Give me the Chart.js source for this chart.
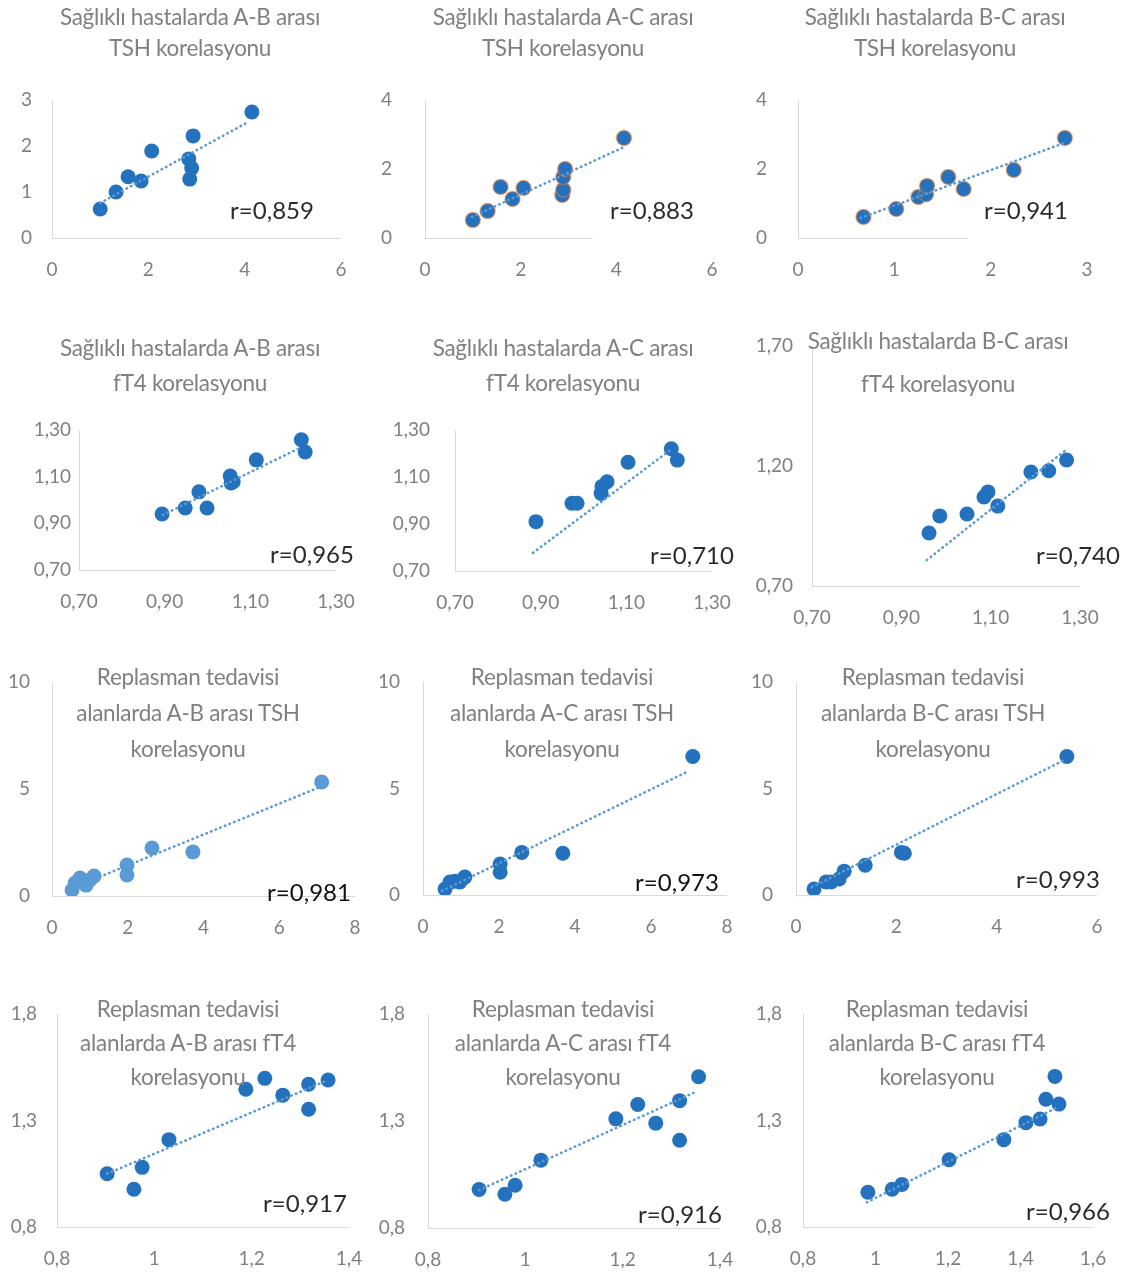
<!DOCTYPE html>
<html>
<head>
<meta charset="utf-8">
<script src="https://cdn.jsdelivr.net/npm/chart.js"></script>
<style>
  body { margin: 0; background: #fff; width: 1127px; height: 1276px; position: relative; overflow: hidden; font-family: Lato, "Open Sans", sans-serif; }
  canvas { position: absolute; }
  .title { position: absolute; color: #808080; font-size: 22.5px; text-align: center; white-space: nowrap; transform: translateX(-50%); letter-spacing: -0.3px; }
  .rlab { position: absolute; color: #2b2b2b; font-size: 24px; white-space: nowrap; transform: translate(-50%, -50%); }
</style>
</head>
<body>
<script>
// ---- data ----
// healthy, TSH
const hTshAB_x = [1.00, 1.33, 1.58, 1.85, 2.07, 2.86, 2.84, 2.90, 2.93, 4.15];
const hTshAB_y = [0.63, 1.00, 1.33, 1.24, 1.89, 1.28, 1.72, 1.52, 2.22, 2.74];
const hTshAB_trendX = [1.00, 4.07];
const hTshAB_trendY = [0.76, 2.52];

const hTshAC_x = [1.00, 1.31, 1.58, 1.83, 2.06, 2.87, 2.89, 2.89, 2.93, 4.16];
const hTshAC_y = [0.52, 0.78, 1.48, 1.13, 1.45, 1.25, 1.40, 1.77, 2.00, 2.90];
const hTshAC_trendX = [0.98, 4.12];
const hTshAC_trendY = [0.61, 2.61];

const hTshBC_x = [0.68, 1.02, 1.25, 1.33, 1.34, 1.56, 1.72, 2.24, 2.77];
const hTshBC_y = [0.61, 0.84, 1.19, 1.27, 1.51, 1.77, 1.42, 1.97, 2.90];
const hTshBC_trendX = [0.65, 2.76];
const hTshBC_trendY = [0.58, 2.75];

// healthy, fT4
const hFt4AB_x = [0.894, 0.948, 0.980, 0.999, 1.053, 1.055, 1.060, 1.114, 1.219, 1.228];
const hFt4AB_y = [0.940, 0.966, 1.035, 0.966, 1.103, 1.073, 1.078, 1.172, 1.258, 1.206];
const hFt4AB_trendX = [0.896, 1.221];
const hFt4AB_trendY = [0.936, 1.228];

const hFt4AC_x = [0.889, 0.973, 0.985, 1.041, 1.043, 1.055, 1.104, 1.205, 1.219];
const hFt4AC_y = [0.910, 0.988, 0.988, 1.030, 1.060, 1.080, 1.163, 1.220, 1.172];
const hFt4AC_trendX = [0.882, 1.200];
const hFt4AC_trendY = [0.777, 1.211];

const hFt4BC_x = [0.962, 0.986, 1.047, 1.085, 1.094, 1.116, 1.190, 1.230, 1.270];
const hFt4BC_y = [0.921, 0.992, 1.000, 1.071, 1.092, 1.033, 1.175, 1.180, 1.225];
const hFt4BC_trendX = [0.957, 1.266];
const hFt4BC_trendY = [0.808, 1.263];

// replacement therapy, TSH
const rTshAB_x = [0.53, 0.61, 0.74, 0.90, 1.00, 1.11, 1.98, 1.98, 2.64, 3.72, 7.12];
const rTshAB_y = [0.28, 0.61, 0.84, 0.51, 0.75, 0.93, 1.45, 0.98, 2.24, 2.06, 5.33];
const rTshAB_trendX = [0.53, 7.02];
const rTshAB_trendY = [0.37, 5.05];

const rTshAC_x = [0.58, 0.71, 0.84, 0.97, 1.10, 2.03, 2.03, 2.60, 3.68, 7.10];
const rTshAC_y = [0.28, 0.61, 0.65, 0.61, 0.84, 1.45, 1.07, 2.00, 1.96, 6.50];
const rTshAC_trendX = [0.50, 6.97];
const rTshAC_trendY = [0.19, 5.80];

const rTshBC_x = [0.36, 0.60, 0.70, 0.86, 0.96, 1.38, 2.10, 2.16, 5.40];
const rTshBC_y = [0.28, 0.61, 0.61, 0.75, 1.12, 1.40, 2.00, 1.96, 6.50];
const rTshBC_trendX = [0.32, 5.36];
const rTshBC_trendY = [0.37, 6.35];

// replacement therapy, fT4
const rFt4AB_x = [0.903, 0.958, 0.975, 1.030, 1.188, 1.227, 1.264, 1.317, 1.317, 1.357];
const rFt4AB_y = [1.050, 0.977, 1.080, 1.210, 1.447, 1.498, 1.419, 1.470, 1.353, 1.490];
const rFt4AB_trendX = [0.903, 1.355];
const rFt4AB_trendY = [1.050, 1.488];

const rFt4AC_x = [0.905, 0.958, 0.979, 1.032, 1.186, 1.231, 1.268, 1.317, 1.317, 1.356];
const rFt4AC_y = [0.980, 0.958, 1.000, 1.117, 1.310, 1.377, 1.290, 1.395, 1.210, 1.507];
const rFt4AC_trendX = [0.905, 1.354];
const rFt4AC_trendY = [0.977, 1.440];

const rFt4BC_x = [0.979, 1.046, 1.073, 1.203, 1.354, 1.415, 1.454, 1.470, 1.495, 1.506];
const rFt4BC_y = [0.963, 0.977, 1.000, 1.116, 1.210, 1.290, 1.307, 1.400, 1.507, 1.377];
const rFt4BC_trendX = [0.976, 1.500];
const rFt4BC_trendY = [0.916, 1.360];

// tick values
const ticksX6 = [0, 2, 4, 6];
const ticksX3 = [0, 1, 2, 3];
const ticksY3 = [0, 1, 2, 3];
const ticksY4 = [0, 2, 4];
const ticksFt4 = [0.70, 0.90, 1.10, 1.30];
const ticksFt4Y = [0.70, 1.20, 1.70];
const ticksX8 = [0, 2, 4, 6, 8];
const ticksY10 = [0, 5, 10];
const ticksRFt4X = [0.8, 1, 1.2, 1.4];
const ticksRFt4X16 = [0.8, 1, 1.2, 1.4, 1.6];
const ticksRFt4Y = [0.8, 1.3, 1.8];

const titles = [
  ["Sağlıklı hastalarda A-B arası", "TSH korelasyonu"],
  ["Sağlıklı hastalarda A-C arası", "TSH korelasyonu"],
  ["Sağlıklı hastalarda B-C arası", "TSH korelasyonu"],
  ["Sağlıklı hastalarda A-B arası", "fT4 korelasyonu"],
  ["Sağlıklı hastalarda A-C arası", "fT4 korelasyonu"],
  ["Sağlıklı hastalarda B-C arası", "fT4 korelasyonu"],
  ["Replasman tedavisi", "alanlarda A-B arası TSH", "korelasyonu"],
  ["Replasman tedavisi", "alanlarda A-C arası TSH", "korelasyonu"],
  ["Replasman tedavisi", "alanlarda B-C arası TSH", "korelasyonu"],
  ["Replasman tedavisi", "alanlarda A-B arası fT4", "korelasyonu"],
  ["Replasman tedavisi", "alanlarda A-C arası fT4", "korelasyonu"],
  ["Replasman tedavisi", "alanlarda B-C arası fT4", "korelasyonu"]
];
const rValues = ["r=0,859", "r=0,883", "r=0,941", "r=0,965", "r=0,710", "r=0,740",
                 "r=0,981", "r=0,973", "r=0,993", "r=0,917", "r=0,916", "r=0,966"];

const series = [
  [hTshAB_x, hTshAB_y, hTshAB_trendX, hTshAB_trendY, ticksX6, ticksY3],
  [hTshAC_x, hTshAC_y, hTshAC_trendX, hTshAC_trendY, ticksX6, ticksY4],
  [hTshBC_x, hTshBC_y, hTshBC_trendX, hTshBC_trendY, ticksX3, ticksY4],
  [hFt4AB_x, hFt4AB_y, hFt4AB_trendX, hFt4AB_trendY, ticksFt4, ticksFt4],
  [hFt4AC_x, hFt4AC_y, hFt4AC_trendX, hFt4AC_trendY, ticksFt4, ticksFt4],
  [hFt4BC_x, hFt4BC_y, hFt4BC_trendX, hFt4BC_trendY, ticksFt4, ticksFt4Y],
  [rTshAB_x, rTshAB_y, rTshAB_trendX, rTshAB_trendY, ticksX8, ticksY10],
  [rTshAC_x, rTshAC_y, rTshAC_trendX, rTshAC_trendY, ticksX8, ticksY10],
  [rTshBC_x, rTshBC_y, rTshBC_trendX, rTshBC_trendY, ticksX6, ticksY10],
  [rFt4AB_x, rFt4AB_y, rFt4AB_trendX, rFt4AB_trendY, ticksRFt4X, ticksRFt4Y],
  [rFt4AC_x, rFt4AC_y, rFt4AC_trendX, rFt4AC_trendY, ticksRFt4X, ticksRFt4Y],
  [rFt4BC_x, rFt4BC_y, rFt4BC_trendX, rFt4BC_trendY, ticksRFt4X16, ticksRFt4Y]
];

// ---- layout (page pixels): plot box [left, right, top, bottom], y tick pad, title pos, r label pos ----
const layout = [
  { box: [52, 341, 100, 238],  yPad: 20, title: [190, 1, 31],   rl: [272, 209] },
  { box: [425, 712, 100, 238], yPad: 33, title: [563, 1, 31],   rl: [652, 209], xEnd: 3.5, ring: true },
  { box: [798, 1087, 100, 238], yPad: 31, title: [935, 1, 31],  rl: [1026, 209], xEnd: 1.76, ring: true },
  { box: [79, 336, 430, 570],  yPad: 8,  title: [190, 330, 35], rl: [312, 553], dec: 2 },
  { box: [455, 712, 430, 571], yPad: 25, title: [563, 330, 35], rl: [692, 554], dec: 2 },
  { box: [812, 1080, 346, 586], yPad: 19, title: [938, 319, 43], rl: [1078, 554], dec: 2 },
  { box: [52, 355, 682, 896],  yPad: 22, title: [188, 659, 36], rl: [309, 891], light: true, dark: true },
  { box: [423, 727, 682, 895], yPad: 23, title: [562, 659, 36], rl: [677, 881], dark: true },
  { box: [796, 1097, 682, 895], yPad: 23, title: [933, 659, 36], rl: [1058, 878] },
  { box: [57, 349, 1014, 1227], yPad: 20, title: [188, 992, 34], rl: [305, 1202] },
  { box: [428, 720, 1014, 1228], yPad: 23, title: [563, 992, 34], rl: [680, 1213] },
  { box: [803, 1093, 1014, 1227], yPad: 21, title: [937, 992, 34], rl: [1068, 1210] }
];

// canvas margins round the plot box (tick padding also feeds Chart.js' layout padding)
const ML = 80, MR = 60, MT = 60, MB = 55;

const xLinePlugin = {
  id: "xLine",
  beforeDatasetsDraw(chart, args, opts) {
    const xs = chart.scales.x, ys = chart.scales.y;
    const end = opts.end != null ? xs.getPixelForValue(opts.end) : chart.chartArea.right;
    const ctx = chart.ctx;
    ctx.save();
    ctx.strokeStyle = "#d9d9d9";
    ctx.lineWidth = 1;
    ctx.beginPath();
    ctx.moveTo(chart.chartArea.left, Math.round(ys.bottom) + 0.5);
    ctx.lineTo(end, Math.round(ys.bottom) + 0.5);
    ctx.stroke();
    ctx.restore();
  }
};

function fmt(v, dec) {
  if (dec) return v.toFixed(dec).replace(".", ",");
  return String(Number(v.toFixed(3))).replace(".", ",");
}

series.forEach(function (s, i) {
  const L = layout[i];
  const [xs, ys, tx, ty, xt, yt] = s;
  const [l, r, t, b] = L.box;

  const cv = document.createElement("canvas");
  cv.width = r - l + ML + MR;
  cv.height = b - t + MT + MB;
  cv.style.left = (l - ML) + "px";
  cv.style.top = (t - MT) + "px";
  document.body.appendChild(cv);

  const dot = L.light ? "#5b9bd5" : "#2471be";
  const tickFont = { family: "Lato, 'Open Sans', sans-serif", size: 19 };

  new Chart(cv.getContext("2d"), {
    type: "scatter",
    data: {
      datasets: [
        {
          type: "line",
          data: tx.map((x, k) => ({ x: x, y: ty[k] })),
          borderColor: "#5b9bd5",
          borderWidth: 2.6,
          borderDash: [0.5, 4.5],
          borderCapStyle: "round",
          pointRadius: 0,
          fill: false
        },
        {
          data: xs.map((x, k) => ({ x: x, y: ys[k] })),
          backgroundColor: dot,
          borderColor: L.ring ? "rgba(237,125,49,0.55)" : dot,
          borderWidth: L.ring ? 1.5 : 0,
          pointRadius: 7.5,
          pointHoverRadius: 7.5
        }
      ]
    },
    options: {
      responsive: false,
      animation: false,
      events: [],
      layout: { padding: { top: MT, right: MR, left: 0, bottom: 0 } },
      plugins: {
        legend: { display: false },
        tooltip: { enabled: false },
        xLine: { end: L.xEnd }
      },
      scales: {
        x: {
          type: "linear",
          min: xt[0],
          max: xt[xt.length - 1],
          afterBuildTicks: sc => { sc.ticks = xt.map(v => ({ value: v })); },
          afterFit: sc => { sc.height = MB; },
          grid: { display: false, drawTicks: false },
          border: { display: false },
          ticks: { color: "#808080", font: tickFont, padding: 20, maxRotation: 0, autoSkip: false,
                   callback: v => fmt(v, L.dec) }
        },
        y: {
          type: "linear",
          min: yt[0],
          max: yt[yt.length - 1],
          afterBuildTicks: sc => { sc.ticks = yt.map(v => ({ value: v })); },
          afterFit: sc => { sc.width = ML; },
          grid: { display: false, drawTicks: false },
          border: { display: true, color: "#d9d9d9", width: 1 },
          ticks: { color: "#808080", font: tickFont, padding: L.yPad, autoSkip: false,
                   callback: v => fmt(v, L.dec) }
        }
      }
    },
    plugins: [xLinePlugin]
  });

  const tdiv = document.createElement("div");
  tdiv.className = "title";
  tdiv.style.left = L.title[0] + "px";
  tdiv.style.top = L.title[1] + "px";
  tdiv.style.lineHeight = L.title[2] + "px";
  tdiv.innerHTML = titles[i].join("<br>");
  document.body.appendChild(tdiv);

  const rdiv = document.createElement("div");
  rdiv.className = "rlab";
  rdiv.style.left = L.rl[0] + "px";
  rdiv.style.top = L.rl[1] + "px";
  if (L.dark) { rdiv.style.color = "#111"; }
  rdiv.textContent = rValues[i];
  document.body.appendChild(rdiv);
});
</script>
</body>
</html>
